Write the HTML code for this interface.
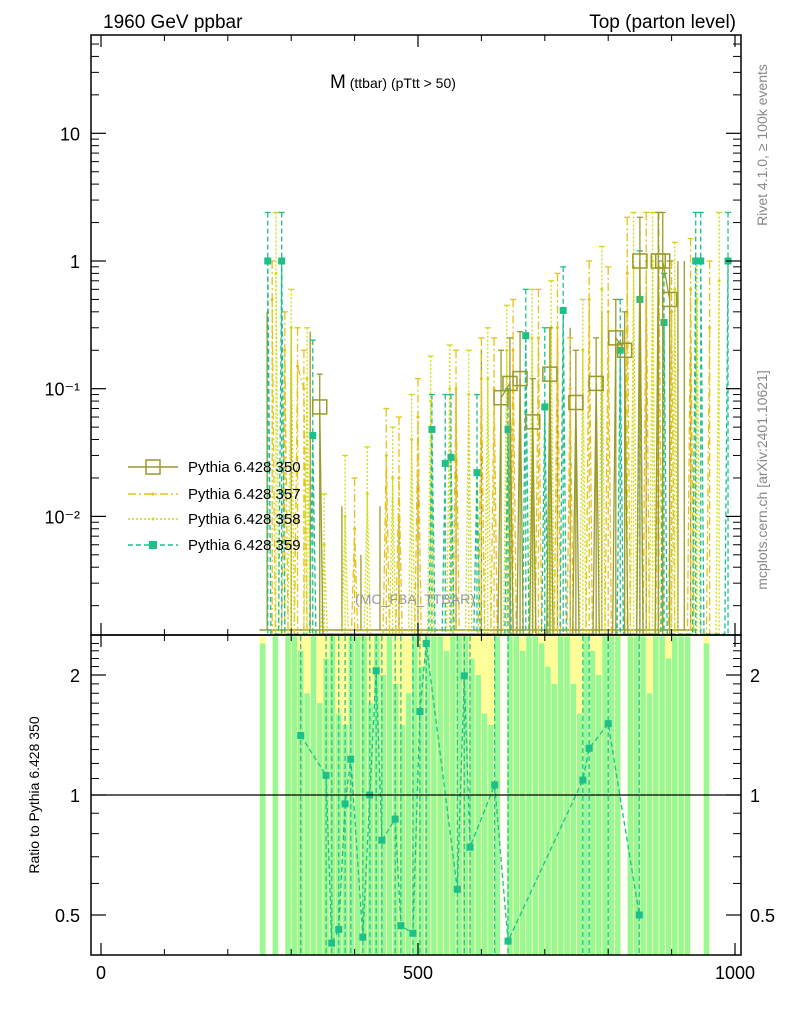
<!DOCTYPE html>
<html><head><meta charset="utf-8"><style>
body{margin:0;background:#fff}
svg{display:block;font-family:"Liberation Sans",sans-serif}
</style></head><body>
<svg id="c" width="786" height="1024" xmlns="http://www.w3.org/2000/svg">
<g id="ratioBands"></g>
<g id="mainMarks"></g>
<g id="ratioMarks"></g>
<g id="axes"></g>
<text x="103" y="28" font-size="19">1960 GeV ppbar</text>
<text x="736" y="28" font-size="19" text-anchor="end">Top (parton level)</text>
<text x="330" y="88" font-size="19">M<tspan font-size="14" dy="0"> (ttbar) (pTtt &gt; 50)</tspan></text>
<text x="415" y="604" font-size="14" fill="#999" text-anchor="middle">(MC_FBA_TTBAR)</text>
<text transform="translate(767,145) rotate(-90)" font-size="14" fill="#888" text-anchor="middle">Rivet 4.1.0, ≥ 100k events</text>
<text transform="translate(767,480) rotate(-90)" font-size="14" fill="#888" text-anchor="middle">mcplots.cern.ch [arXiv:2401.10621]</text>
<text transform="translate(39,795) rotate(-90)" font-size="14" text-anchor="middle">Ratio to Pythia 6.428 350</text>
<g font-size="15">
<g><line x1="128" y1="467" x2="178" y2="467" stroke="#9a9a2a" stroke-width="1.5"/><rect x="146" y="460" width="14" height="14" fill="none" stroke="#9a9a2a" stroke-width="1.5"/><text x="188" y="472">Pythia 6.428 350</text></g>
<g><line x1="128" y1="494" x2="178" y2="494" stroke="#e6c21a" stroke-width="1.5" stroke-dasharray="8,3,2,3"/><circle cx="153" cy="494" r="1.5" fill="#e6c21a"/><text x="188" y="499">Pythia 6.428 357</text></g>
<g><line x1="128" y1="519" x2="178" y2="519" stroke="#d0dc10" stroke-width="1.5" stroke-dasharray="2,2"/><circle cx="153" cy="519" r="1.5" fill="#d0dc10"/><text x="188" y="524">Pythia 6.428 358</text></g>
<g><line x1="128" y1="545" x2="178" y2="545" stroke="#1ec08a" stroke-width="1.5" stroke-dasharray="5,3"/><rect x="149" y="541" width="8" height="8" fill="#1ec08a"/><text x="188" y="550">Pythia 6.428 359</text></g>
</g>
</svg>
<script>
const s350x=[345,631,645,661,681,708,749,781,812,826,850,879,886,897];
const s350v=[0.072,0.085,0.11,0.12,0.055,0.13,0.078,0.11,0.25,0.2,1.0,1.0,1.0,0.5];
const s350hi=[0.13,0.2,0.25,0.28,0.12,0.3,0.2,0.25,0.5,0.4,2.2,2.4,2.4,1.0];
const s350zeroX=[262,300,330,380,410,440,470,500,560,600,720,740,790,860,910,920,930];
const s350zeroHi=[0.4,0.3,0.28,0.012,0.005,0.012,0.01,0.02,0.1,0.2,0.25,0.3,0.4,0.5,1.0,1.0,0.2];
const s357x=[270,290,310,320,400,450,470,500,560,600,620,650,690,720,740,770,800,830,860,880,900,930,960];
const s357v=[0.5,0.2,0.15,0.1,0.008,0.03,0.02,0.06,0.1,0.12,0.1,0.2,0.25,0.3,0.1,0.5,0.4,0.8,1.0,0.9,0.4,0.6,0.3];
const s357hi=[1.0,0.4,0.3,0.2,0.02,0.07,0.06,0.12,0.2,0.25,0.25,0.5,0.6,0.8,0.25,1.0,0.9,2.2,2.4,2.4,1.0,1.5,1.0];
const s358x=[276,300,325,352,385,420,460,490,520,550,580,610,640,680,710,760,790,840,870,905,940,975];
const s358v=[0.8,0.3,0.12,0.006,0.01,0.015,0.02,0.04,0.08,0.1,0.09,0.12,0.2,0.25,0.3,0.2,0.6,0.9,1.0,0.6,0.5,0.7];
const s358hi=[2.4,0.6,0.3,0.015,0.03,0.035,0.05,0.09,0.18,0.22,0.2,0.3,0.45,0.6,0.7,0.5,1.3,2.4,2.4,1.4,1.0,2.4];
const s359x=[263,285,334,522,543,552,593,642,670,700,729,819,850,888,938,946,989];
const s359v=[1,1,0.043,0.048,0.026,0.029,0.022,0.048,0.26,0.072,0.41,0.2,0.5,0.33,1,1,1];
const s359hi=[2.4,2.4,0.24,0.09,0.09,0.09,0.09,0.1,0.6,0.3,0.9,0.5,1.2,0.8,2.4,2.4,2.4];
const rx=[315,355,364,375,385,394,413,424,434,443,464,473,492,503,513,562,573,582,621,642,760,770,800,849];
const rv=[1.41,1.12,0.425,0.46,0.95,1.23,0.44,1.0,2.05,0.77,0.87,0.47,0.45,1.62,2.4,0.58,1.99,0.74,1.06,0.43,1.09,1.31,1.51,0.5];
const binX=[];for(let b=255;b<=975;b+=10)binX.push(b);
const greenTop=[2.4,0,2.5,0,2.5,2.5,2.3,1.8,2.5,1.7,2.2,2.5,1.6,1.5,2.5,2.5,2.5,1.7,2.5,2.0,2.5,1.9,1.5,1.8,2.5,2.1,2.5,2.5,2.5,2.3,2.5,2.5,2.5,2.2,2.0,1.6,1.5,2.5,0,2.5,2.5,2.3,2.5,2.5,2.4,2.1,1.9,2.5,2.5,1.9,1.6,2.5,2.3,2.0,2.5,2.5,2.5,0,2.5,2.5,2.5,1.8,2.5,2.5,2.2,2.5,2.5,2.5,0,0,2.4,0,0];
const yellowTop=[2.5,0,2.5,0,2.5,2.5,2.5,2.5,2.5,2.5,2.5,2.5,2.5,2.5,2.5,2.5,2.5,2.5,2.5,2.5,2.5,2.5,2.5,2.5,2.5,2.5,2.5,2.5,2.5,2.5,2.5,2.5,2.5,2.5,2.5,2.5,2.5,2.5,0,2.5,2.5,2.5,2.5,2.5,2.5,2.5,2.5,2.5,2.5,2.5,2.5,2.5,2.5,2.5,2.5,2.5,2.5,0,2.5,2.5,2.5,2.5,2.5,2.5,2.5,2.5,2.5,2.5,0,0,2.5,0,0];
const xTicks=[0,500,1000];const yMainLabels=["10","1","10⁻¹","10⁻²"];const yMainTicks=[10,1,0.1,0.01];
const yRatioTicks=[2,1,0.5];const yRatioLabels=["2","1","0.5"];

const NS="http://www.w3.org/2000/svg";
const X=u=>101+0.634*u;
const YM=v=>261-127.7*Math.log10(v);
const YR=v=>795-398.6*Math.log10(v);
const clampM=y=>Math.max(36,Math.min(634,y));
const clampR=y=>Math.max(636,Math.min(954,y));
function el(p,t,a){const e=document.createElementNS(NS,t);for(const k in a)e.setAttribute(k,a[k]);p.appendChild(e);return e;}
const bands=document.getElementById('ratioBands'),mm=document.getElementById('mainMarks'),rm=document.getElementById('ratioMarks'),ax=document.getElementById('axes');
binX.forEach((b,i)=>{
 if(yellowTop[i]>0){const r=el(bands,'rect',{x:X(b-5),y:clampR(YR(yellowTop[i])),width:6.4,height:955-clampR(YR(yellowTop[i])),fill:'#ffff99'});
 
 }
 if(greenTop[i]>0){const r=el(bands,'rect',{x:X(b-5)+0.5,y:clampR(YR(greenTop[i])),width:5.4,height:955-clampR(YR(greenTop[i])),fill:'#98f898'});
 
 }
});
function series(xs,vs,hi,col,dash,name,marker){
 const g=el(mm,'g',{});
 
 
 let d='';xs.forEach((u,i)=>{
  if(i>0 && u-xs[i-1]>14){d+='L'+X(xs[i-1]+5)+',634L'+X(u-5)+',634';}
  d+=(i?'L':'M')+X(u)+','+clampM(YM(vs[i]));});
 el(g,'path',{d:d,fill:'none',stroke:col,'stroke-width':1.3,'stroke-dasharray':dash});
 xs.forEach((u,i)=>{const x=X(u),yt=clampM(YM(hi[i]));
  el(g,'line',{x1:x,x2:x,y1:yt,y2:634,stroke:col,'stroke-width':1.3,'stroke-dasharray':dash});
  el(g,'line',{x1:x-3,x2:x+3,y1:yt,y2:yt,stroke:col,'stroke-width':1.3});
  const y=clampM(YM(vs[i]));
  if(marker==='open')el(g,'rect',{x:x-7,y:y-7,width:14,height:14,fill:'none',stroke:col,'stroke-width':1.5});
  else if(marker==='sq')el(g,'rect',{x:x-3.5,y:y-3.5,width:7,height:7,fill:col});
  else el(g,'circle',{cx:x,cy:y,r:1.5,fill:col});
 });
}
el(mm,'line',{x1:X(250),x2:X(940),y1:630,y2:630,stroke:'#9a9a2a','stroke-width':1.5});
s350zeroX.forEach((u,i)=>{const yt=clampM(YM(s350zeroHi[i]));const l=el(mm,'line',{x1:X(u),x2:X(u),y1:yt,y2:630,stroke:'#9a9a2a','stroke-width':1.3});
 
 });
series(s357x,s357v,s357hi,'#e6c21a','8,3,2,3','series-357','dot');
series(s358x,s358v,s358hi,'#d0dc10','2,2','series-358','dot');
series(s359x,s359v,s359hi,'#1ec08a','5,3','series-359','sq');
series(s350x,s350v,s350hi,'#9a9a2a','','series-350','open');
(function(){const g=el(rm,'g',{});
 
 
 let d='';rx.forEach((u,i)=>{d+=(i?'L':'M')+X(u)+','+clampR(YR(rv[i]));});
 el(g,'path',{d:d,fill:'none',stroke:'#1ec08a','stroke-width':1.3,'stroke-dasharray':'5,3'});
 rx.forEach((u,i)=>{const x=X(u);el(g,'line',{x1:x,x2:x,y1:636,y2:954,stroke:'#1ec08a','stroke-width':1.2,'stroke-dasharray':'5,3'});
  el(g,'rect',{x:x-3.5,y:clampR(YR(rv[i]))-3.5,width:7,height:7,fill:'#1ec08a'});});
})();
el(ax,'line',{x1:91,x2:741,y1:795,y2:795,stroke:'#000','stroke-width':1.2});
el(ax,'rect',{x:91,y:35,width:650,height:600,fill:'none',stroke:'#000','stroke-width':1.5});
el(ax,'rect',{x:91,y:635,width:650,height:320,fill:'none',stroke:'#000','stroke-width':1.5});
xTicks.forEach(t=>{const x=X(t);
 [[35,47],[623,635],[635,647],[943,955]].forEach(p=>el(ax,'line',{x1:x,x2:x,y1:p[0],y2:p[1],stroke:'#000','stroke-width':1.2}));
 const tx=el(ax,'text',{x:x,y:979,'font-size':18,'text-anchor':'middle'});tx.textContent=t;
 
 });
for(let t=100;t<1000;t+=100){if(t===500)continue;const x=X(t);[[35,41],[629,635],[635,641],[949,955]].forEach(p=>el(ax,'line',{x1:x,x2:x,y1:p[0],y2:p[1],stroke:'#000'}));}
yMainTicks.forEach((t,i)=>{const y=YM(t);el(ax,'line',{x1:91,x2:106,y1:y,y2:y,stroke:'#000','stroke-width':1.2});el(ax,'line',{x1:726,x2:741,y1:y,y2:y,stroke:'#000','stroke-width':1.2});
 const tx=el(ax,'text',{x:80,y:y+7,'font-size':18,'text-anchor':'end'});tx.textContent=yMainLabels[i];
 
 });
for(let e=-3;e<=1;e++)for(let m=2;m<10;m++){const y=YM(m*Math.pow(10,e));if(y<36||y>634)continue;el(ax,'line',{x1:91,x2:99,y1:y,y2:y,stroke:'#000'});el(ax,'line',{x1:733,x2:741,y1:y,y2:y,stroke:'#000'});}
yRatioTicks.forEach((t,i)=>{const y=YR(t);el(ax,'line',{x1:91,x2:106,y1:y,y2:y,stroke:'#000','stroke-width':1.2});el(ax,'line',{x1:726,x2:741,y1:y,y2:y,stroke:'#000','stroke-width':1.2});
 const a=el(ax,'text',{x:80,y:y+7,'font-size':18,'text-anchor':'end'});a.textContent=yRatioLabels[i];
 
 
 const b=el(ax,'text',{x:750,y:y+7,'font-size':18});b.textContent=yRatioLabels[i];
 
 });
[0.6,0.7,0.8,0.9,1.1,1.2,1.3,1.4,1.5,1.6,1.7,1.8,1.9,2.1,2.2,2.3,2.4].forEach(v=>{const y=YR(v);el(ax,'line',{x1:91,x2:99,y1:y,y2:y,stroke:'#000'});el(ax,'line',{x1:733,x2:741,y1:y,y2:y,stroke:'#000'});});
</script>
</body></html>
